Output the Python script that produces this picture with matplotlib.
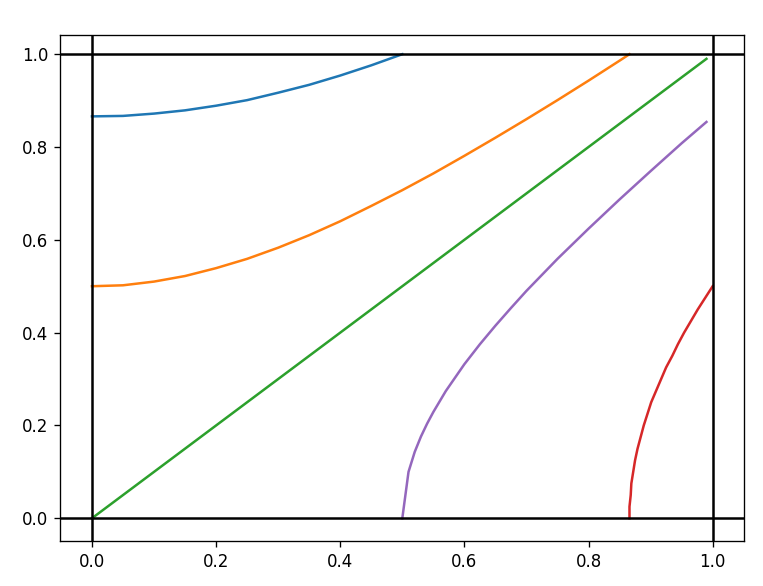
import matplotlib
matplotlib.use("Agg")
from matplotlib import pyplot as plt

# curves
blue_x = [0.0, 0.05, 0.1, 0.15, 0.2, 0.25, 0.3, 0.35, 0.4, 0.45, 0.5]
blue_y = [0.866, 0.867, 0.872, 0.879, 0.889, 0.901, 0.917, 0.934, 0.954, 0.976, 1.0]

orange_x = [0.0, 0.05, 0.1, 0.15, 0.2, 0.25, 0.3, 0.35, 0.4, 0.45, 0.5,
            0.55, 0.6, 0.65, 0.7, 0.75, 0.8, 0.85, 0.866]
orange_y = [0.5, 0.502, 0.51, 0.522, 0.539, 0.559, 0.583, 0.61, 0.64, 0.673, 0.707,
            0.743, 0.781, 0.82, 0.86, 0.901, 0.943, 0.986, 1.0]

green_x = [0.0, 0.99]
green_y = [0.0, 0.99]

red_x = [0.866, 0.866, 0.868, 0.869, 0.872, 0.875, 0.879, 0.884, 0.889, 0.895,
         0.901, 0.909, 0.917, 0.925, 0.935, 0.944, 0.954, 0.965, 0.976, 0.988, 1.0]
red_y = [0.0, 0.025, 0.05, 0.075, 0.1, 0.125, 0.15, 0.175, 0.2, 0.225,
         0.25, 0.275, 0.3, 0.325, 0.35, 0.375, 0.4, 0.425, 0.45, 0.475, 0.5]

purple_x = [0.5, 0.51, 0.52, 0.53, 0.54, 0.55, 0.57, 0.6, 0.625, 0.65, 0.675,
            0.7, 0.75, 0.8, 0.85, 0.9, 0.95, 0.99]
purple_y = [0.0, 0.1, 0.143, 0.176, 0.204, 0.229, 0.274, 0.332, 0.375, 0.415, 0.453,
            0.49, 0.559, 0.624, 0.687, 0.748, 0.808, 0.854]

ticks = [0.0, 0.2, 0.4, 0.6, 0.8, 1.0]

fig = plt.figure(figsize=(763/120, 586/120), dpi=120)
ax = fig.add_axes([60/763, 1-541/586, (744-60)/763, (541-34.7)/586])

ax.plot(blue_x, blue_y, color="tab:blue")
ax.plot(orange_x, orange_y, color="tab:orange")
ax.plot(green_x, green_y, color="tab:green")
ax.plot(red_x, red_y, color="tab:red")
ax.plot(purple_x, purple_y, color="tab:purple")

ax.axhline(0, color="black")
ax.axhline(1, color="black")
ax.axvline(0, color="black")
ax.axvline(1, color="black")

ax.set_xlim(-0.0515, 1.0505)
ax.set_ylim(-0.049, 1.042)
ax.set_xticks(ticks)
ax.set_yticks(ticks)

fig.savefig("out.png", dpi=120)
